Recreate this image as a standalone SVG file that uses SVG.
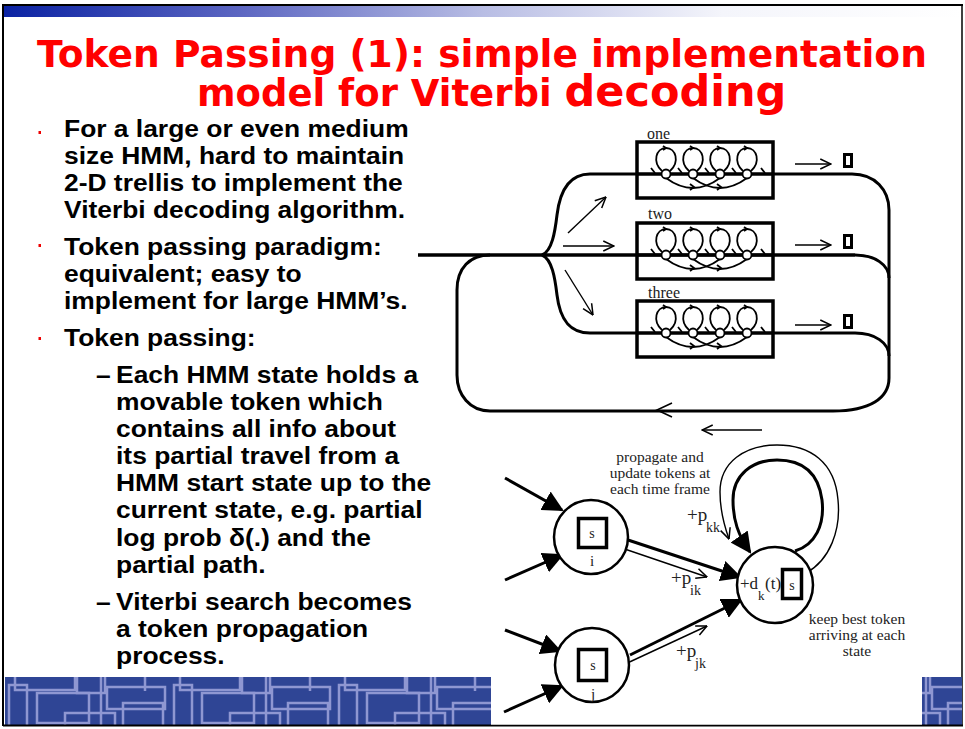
<svg xmlns="http://www.w3.org/2000/svg" width="965" height="729" viewBox="0 0 965 729">
<defs>
<style>
.title{font-family:"DejaVu Sans",Verdana,sans-serif;font-weight:bold;fill:#ff0000;}
.body{font-family:"Liberation Sans",Arial,sans-serif;font-weight:bold;font-size:24px;fill:#000;}
.serif{font-family:"Liberation Serif","Times New Roman",serif;fill:#222;}
.thk{fill:none;stroke:#000;stroke-width:3.5;}
.med{fill:none;stroke:#000;stroke-width:3;}
.thin{fill:none;stroke:#000;stroke-width:1.4;}
.box{fill:none;stroke:#000;stroke-width:3.5;}
.tok{fill:#fff;stroke:#000;stroke-width:3.5;}
.circ{fill:#fff;stroke:#000;stroke-width:2.5;}
.pat{fill:none;stroke:#8f97d2;stroke-width:2.5;}
</style>
<linearGradient id="topbar" x1="0" y1="0" x2="1" y2="0">
<stop offset="0" stop-color="#0a22a3"/>
<stop offset="0.25" stop-color="#5d67c2"/>
<stop offset="0.5" stop-color="#b8bde4"/>
<stop offset="0.75" stop-color="#f4f5fb"/>
<stop offset="1" stop-color="#ffffff"/>
</linearGradient>
<pattern id="circuit" patternUnits="userSpaceOnUse" x="5" y="677" width="165" height="48">
<rect width="165" height="48" fill="#2f4595"/>
<rect class="pat" x="10" y="-3" width="60" height="16"/>
<rect class="pat" x="4" y="8" width="18" height="50"/>
<rect class="pat" x="32" y="16" width="52" height="30"/>
<rect class="pat" x="72" y="-6" width="28" height="22"/>
<line class="pat" x1="96" y1="0" x2="96" y2="48"/>
<rect class="pat" x="102" y="10" width="58" height="22"/>
<rect class="pat" x="118" y="26" width="40" height="30"/>
<line class="pat" x1="140" y1="0" x2="140" y2="14"/>
<rect class="pat" x="60" y="36" width="50" height="20"/>
</pattern>
<marker id="bigHead" viewBox="0 0 10 10" refX="9" refY="5" markerWidth="7" markerHeight="7" orient="auto" markerUnits="strokeWidth">
<path d="M0,0 L10,5 L0,10 Z" fill="#000"/>
</marker>
<marker id="openHead" viewBox="0 0 10 10" refX="9.5" refY="5" markerWidth="9" markerHeight="9" orient="auto" markerUnits="strokeWidth">
<path d="M1,1 L9.5,5 L1,9" fill="none" stroke="#000" stroke-width="1.2"/>
</marker>
<g id="hmm">
<rect class="box" x="0" y="-32" width="136" height="56"/>
<line x1="0" y1="0" x2="136" y2="0" stroke="#000" stroke-width="3"/>
<g fill="none" stroke="#000" stroke-width="1.8">
<path d="M25,-3 C15,-12 19,-26 29,-26 C39,-26 43,-12 33,-3"/>
<path d="M52,-3 C42,-12 46,-26 56,-26 C66,-26 70,-12 60,-3"/>
<path d="M79,-3 C69,-12 73,-26 83,-26 C93,-26 97,-12 87,-3"/>
<path d="M106,-3 C96,-12 100,-26 110,-26 C120,-26 124,-12 114,-3"/>
<path d="M29,4 Q56,24 83,4"/>
<path d="M56,4 Q83,24 110,4"/>
<path d="M14,-6 L18,-1 M41,-6 L45,-1 M68,-6 L72,-1 M95,-6 L99,-1 M124,-6 L128,-1"/>
<path d="M26,-28 L29,-26 L26,-24 M53,-28 L56,-26 L53,-24 M80,-28 L83,-26 L80,-24 M107,-28 L110,-26 L107,-24"/>
<path d="M53,10 L57,13 L53,16 M80,10 L84,13 L80,16"/>
</g>
<g class="circ" style="stroke-width:1.8">
<circle cx="29" cy="0" r="4.5"/>
<circle cx="56" cy="0" r="4.5"/>
<circle cx="83" cy="0" r="4.5"/>
<circle cx="110" cy="0" r="4.5"/>
</g>
</g>
</defs>

<!-- slide frame -->
<rect x="0" y="0" width="965" height="729" fill="#fff"/>
<rect x="3" y="6" width="959" height="11" fill="url(#topbar)"/>
<line x1="2" y1="5" x2="963" y2="5" stroke="#000" stroke-width="2"/>
<line x1="3" y1="5" x2="3" y2="726" stroke="#000" stroke-width="2"/>
<line x1="962" y1="5" x2="962" y2="726" stroke="#000" stroke-width="1.5"/>
<rect x="5" y="677" width="486" height="48" fill="url(#circuit)"/>
<rect x="922" y="677" width="40" height="48" fill="url(#circuit)"/>
<line x1="3" y1="725.5" x2="963" y2="725.5" stroke="#000" stroke-width="2"/>

<!-- title -->
<g id="title">
<text class="title" x="37" y="67" font-size="37" textLength="890" lengthAdjust="spacingAndGlyphs">Token Passing (1): simple implementation</text>
<text class="title" x="197" y="106" font-size="37">model for Viterbi <tspan font-size="43">decoding</tspan></text>
</g>

<!-- bullets -->
<g id="bullets">
<rect x="38.5" y="131" width="2.5" height="3" fill="#e00"/>
<rect x="38.5" y="244" width="2.5" height="3" fill="#e00"/>
<rect x="38.5" y="337" width="2.5" height="3" fill="#e00"/>
<g transform="scale(1.1,1)">
<text class="body" x="58.2" y="137">For a large or even medium</text>
<text class="body" x="58.2" y="164">size HMM, hard to maintain</text>
<text class="body" x="58.2" y="191">2-D trellis to implement the</text>
<text class="body" x="58.2" y="218">Viterbi decoding algorithm.</text>
<text class="body" x="58.2" y="255">Token passing paradigm:</text>
<text class="body" x="58.2" y="282">equivalent; easy to</text>
<text class="body" x="58.2" y="309">implement for large HMM’s.</text>
<text class="body" x="58.2" y="346">Token passing:</text>
<text class="body" x="87.3" y="383" font-size="19">–</text>
<text class="body" x="105.5" y="383">Each HMM state holds a</text>
<text class="body" x="105.5" y="410">movable token which</text>
<text class="body" x="105.5" y="437">contains all info about</text>
<text class="body" x="105.5" y="464">its partial travel from a</text>
<text class="body" x="105.5" y="491">HMM start state up to the</text>
<text class="body" x="105.5" y="518">current state, e.g. partial</text>
<text class="body" x="105.5" y="546">log prob δ(.) and the</text>
<text class="body" x="105.5" y="573">partial path.</text>
<text class="body" x="87.3" y="610" font-size="19">–</text>
<text class="body" x="105.5" y="610">Viterbi search becomes</text>
<text class="body" x="105.5" y="637">a token propagation</text>
<text class="body" x="105.5" y="664">process.</text>
</g>
</g>

<!-- white figure area over band -->
<rect x="491" y="677" width="431" height="47.5" fill="#fff"/>

<!-- trellis connectors -->
<g id="connectors">
<path class="thk" d="M418,255 L855,255"/>
<path class="med" d="M542,255 C552,251 555,232 557,215 C560,190 570,174 590,174 L852,174 C875,174 889,190 889,210 L889,378 C889,398 870,411 833,411 L490,411 C470,411 457,395 457,375 L457,290 C457,268 470,255 490,255"/>
<path class="med" d="M542,255 C552,259 555,278 557,295 C560,320 570,333 590,333 L855,333 C875,333 889,343 889,356"/>
<path class="med" d="M855,255 C875,255 889,265 889,278"/>
<path class="thin" d="M568,233 L606,197" marker-end="url(#openHead)"/>
<path class="thin" d="M563,246 L614,246" stroke-width="2" marker-end="url(#openHead)"/>
<path class="thin" d="M565,270 L593,315" marker-end="url(#openHead)"/>
<path fill="none" stroke="#000" stroke-width="1.6" d="M672,403 L657,410 L672,417"/>
<path class="thin" d="M762,430 L702,430" marker-end="url(#openHead)"/>
<path class="thin" stroke-width="2" d="M795,164 L831,164" marker-end="url(#openHead)"/>
<path class="thin" stroke-width="1.6" d="M795,245 L831,245" marker-end="url(#openHead)"/>
<path class="thin" stroke-width="1.6" d="M795,325 L831,325" marker-end="url(#openHead)"/>
<!-- token diagram connectors -->
<path class="med" d="M505,478 L562,510" marker-end="url(#bigHead)"/>
<path class="med" d="M505,580 L562,555" marker-end="url(#bigHead)"/>
<path class="med" d="M505,630 L560,651" marker-end="url(#bigHead)"/>
<path class="med" d="M504,712 L562,686" marker-end="url(#bigHead)"/>
<path class="med" d="M628,540 L740,577" marker-end="url(#bigHead)"/>
<path class="thin" d="M607,543 L707,577" marker-end="url(#openHead)"/>
<path class="med" d="M630,655 L741,600" marker-end="url(#bigHead)"/>
<path class="thin" d="M608,672 L707,626" marker-end="url(#openHead)"/>
<path class="med" d="M795,551 C815,545 825,525 822,500 C818,470 800,460 777,460 C752,460 733,475 733,500 C733,520 738,535 750,552" marker-end="url(#bigHead)"/>
<path class="thin" d="M806,573 C830,560 841,530 838,500 C835,462 810,445 777,445 C745,445 720,462 720,492 C720,510 724,525 729,539" marker-end="url(#openHead)"/>
</g>

<!-- HMM boxes -->
<g id="model-one">
<use href="#hmm" transform="translate(637,174)"/>
<text class="serif" x="647" y="139" font-size="16">one</text>
<rect x="844.5" y="154.5" width="7" height="12" fill="none" stroke="#000" stroke-width="3"/>
</g>
<g id="model-two">
<use href="#hmm" transform="translate(637,255)"/>
<text class="serif" x="648" y="219" font-size="16">two</text>
<rect x="844.5" y="235.5" width="7" height="12" fill="none" stroke="#000" stroke-width="3"/>
</g>
<g id="model-three">
<use href="#hmm" transform="translate(637,333)"/>
<text class="serif" x="648" y="298" font-size="16">three</text>
<rect x="844.5" y="315.5" width="7" height="12" fill="none" stroke="#000" stroke-width="3"/>
</g>

<!-- token nodes -->
<g id="state-i">
<circle class="circ" cx="591" cy="537" r="37"/>
<rect class="tok" x="578.5" y="518.5" width="28" height="29"/>
<text class="serif" x="592" y="538" font-size="14" text-anchor="middle">s</text>
<text class="serif" x="592" y="566" font-size="15" text-anchor="middle">i</text>
</g>
<g id="state-j">
<circle class="circ" cx="592" cy="665" r="37"/>
<rect class="tok" x="578.5" y="649.5" width="28" height="31"/>
<text class="serif" x="593" y="670" font-size="14" text-anchor="middle">s</text>
<text class="serif" x="593" y="699" font-size="15" text-anchor="middle">j</text>
</g>
<g id="state-k">
<circle class="circ" cx="775" cy="585" r="38"/>
<rect class="tok" x="782.5" y="569.5" width="19" height="29"/>
<text class="serif" x="792" y="590" font-size="14" text-anchor="middle">s</text>
<text class="serif" x="740" y="589" font-size="17">+d</text>
<text class="serif" x="758" y="600" font-size="13">k</text>
<text class="serif" x="765" y="589" font-size="17">(t)</text>
</g>

<!-- labels -->
<g id="labels">
<text class="serif" font-size="15.5" text-anchor="middle"><tspan x="660" y="462">propagate and</tspan><tspan x="660" y="478">update tokens at</tspan><tspan x="660" y="494">each time frame</tspan></text>
<text class="serif" x="687" y="521" font-size="19">+p</text>
<text class="serif" x="706" y="532" font-size="14">kk</text>
<text class="serif" x="671" y="584" font-size="19">+p</text>
<text class="serif" x="690" y="595" font-size="14">ik</text>
<text class="serif" x="676" y="657" font-size="19">+p</text>
<text class="serif" x="695" y="668" font-size="14">jk</text>
<text class="serif" font-size="15.5" text-anchor="middle"><tspan x="857" y="624">keep best token</tspan><tspan x="857" y="640">arriving at each</tspan><tspan x="857" y="656">state</tspan></text>
</g>
</svg>
